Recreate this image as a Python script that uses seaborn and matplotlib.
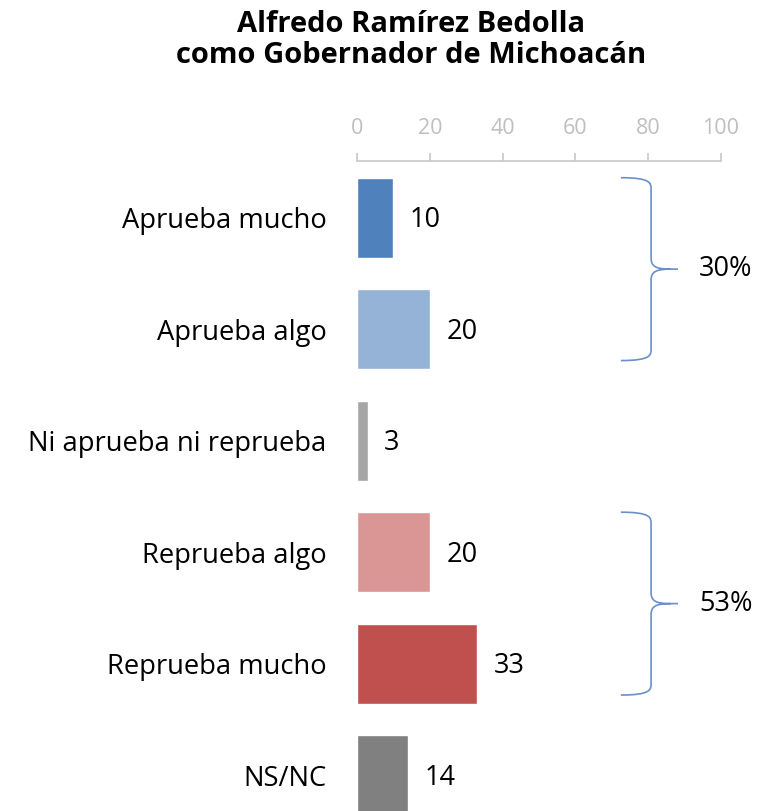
import pandas as pd
import matplotlib.pyplot as plt
import seaborn as sns
from matplotlib.path import Path
from matplotlib.patches import PathPatch

categories = ['Aprueba mucho', 'Aprueba algo', 'Ni aprueba ni reprueba',
              'Reprueba algo', 'Reprueba mucho', 'NS/NC']
values = [10, 20, 3, 20, 33, 14]
colors = ['#4F81BD', '#95B3D7', '#A6A6A6', '#D99694', '#C0504D', '#808080']
# groups summed by the braces: (first row, last row, label)
groups = [(0, 1, '30%'), (3, 4, '53%')]

sns.set_style('white')
plt.rcParams['font.family'] = ['Open Sans', 'DejaVu Sans']
plt.rcParams['text.color'] = 'black'
plt.rcParams['ytick.labelcolor'] = 'black'

df = pd.DataFrame({'cat': categories, 'val': values})

fig = plt.figure(figsize=(7.7, 8.11), dpi=100)
ax = fig.add_axes([0.4636, 0.0, 0.4727, 0.8015])
sns.barplot(data=df, x='val', y='cat', hue='cat', palette=colors,
            order=categories, hue_order=categories, legend=False,
            width=0.72, saturation=1, ax=ax)

ax.set_xlim(0, 100)
ax.set_ylim(5.32, -0.51)
ax.set_xticks(range(0, 101, 20))
ax.xaxis.tick_top()
ax.tick_params(axis='x', colors='#C8C8C8', labelcolor='#BFBFBF', labelsize=15.5,
               length=6, width=1.2, pad=10, direction='out')
ax.tick_params(axis='y', length=0, labelsize=19.7, labelcolor='black', pad=22)
for s in ['right', 'bottom', 'left']:
    ax.spines[s].set_visible(False)
ax.spines['top'].set_color('#C8C8C8')
ax.spines['top'].set_linewidth(1.2)
ax.set_xlabel('')
ax.set_ylabel('')

for i, v in enumerate(values):
    ax.text(v + 4.5, i + 0.02, str(v), va='center', ha='left', fontsize=19.5, color='black')

# braces
bc = '#6A8FCC'
for a, b, lab in groups:
    top, bot = a - 0.36, b + 0.28
    mid = (top + bot) / 2
    x0, x1, xt = 72.5, 80.8, 88.2
    verts = [(x0, top), (x1, top), (x1, top + 0.05), (x1, top + 0.1),
             (x1, mid - 0.1),
             (x1, mid - 0.02), (x1 + 1.5, mid), (xt - 2, mid),
             (xt, mid), (xt - 2, mid), (x1 + 1.5, mid), (x1, mid + 0.02),
             (x1, mid + 0.1),
             (x1, bot - 0.1), (x1, bot - 0.05), (x1, bot), (x0, bot)]
    codes = [Path.MOVETO, Path.CURVE4, Path.CURVE4, Path.CURVE4,
             Path.LINETO,
             Path.CURVE4, Path.CURVE4, Path.CURVE4,
             Path.LINETO, Path.MOVETO, Path.CURVE4, Path.CURVE4,
             Path.LINETO,
             Path.LINETO, Path.CURVE4, Path.CURVE4, Path.CURVE4]
    ax.add_patch(PathPatch(Path(verts, codes), fill=False, ec=bc, lw=1.2, clip_on=False))
    ax.text(94, mid, lab, va='center', ha='left', fontsize=19.5, clip_on=False)

fig.text(0.534, 0.988, 'Alfredo Ramírez Bedolla\ncomo Gobernador de Michoacán',
         ha='center', va='top', fontsize=21, fontweight='bold', linespacing=1.12)

fig.savefig('out.png', dpi=100)
